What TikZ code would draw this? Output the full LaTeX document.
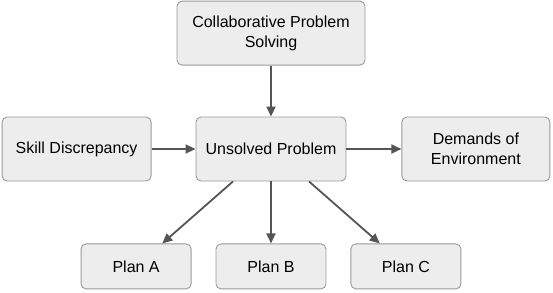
\documentclass[tikz,border=0pt]{standalone}
\usepackage{fontspec}
\setmainfont{Liberation Sans}
\usepackage{tikz}
\usetikzlibrary{arrows.meta,positioning}
\definecolor{boxfill}{HTML}{EDEDED}
\definecolor{boxline}{HTML}{9A9A9A}
\definecolor{arrline}{HTML}{555555}

\begin{document}
\begin{tikzpicture}[x=1pt,y=1pt,
  box/.style={draw=boxline,line width=0.9pt,rounded corners=5pt,fill=boxfill,
              minimum width=#1,minimum height=64pt,align=center,
              font=\fontsize{16}{20}\selectfont,inner sep=2pt},
  plan/.style={box=110pt,minimum height=45pt},
  arr/.style={-{Triangle[length=10pt,width=9pt]},line width=1.8pt,draw=arrline}
]
\useasboundingbox (0,0) rectangle (553,292);
\node[box=150pt] (u) at (271,143) {Unsolved Problem};
\node[box=188pt,above=51pt of u] (cps) {Collaborative Problem\\Solving};
\node[box=149pt,left=44pt of u]  (skill) {Skill Discrepancy};
\node[box=148pt,right=55pt of u] (env) {Demands of\\Environment};

\node[plan,below=62pt of u]      (pb) {Plan B};
\node[plan,left=24pt of pb]      (pa) {Plan A};
\node[plan,right=24pt of pb]     (pc) {Plan C};

\draw[arr] (cps) -- (u);
\draw[arr] (skill) -- (u);
\draw[arr] (u) -- (env);
\draw[arr] ([xshift=-38pt]u.south) -- (pa);
\draw[arr] (u.south) -- (pb);
\draw[arr] ([xshift=38pt]u.south) -- (pc);
\end{tikzpicture}
\end{document}
